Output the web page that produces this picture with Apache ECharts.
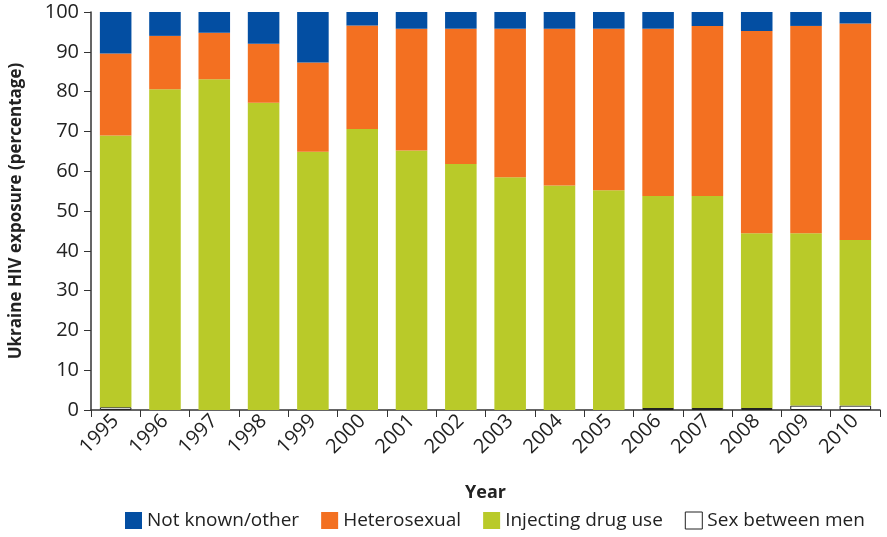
<!DOCTYPE html>
<html>
<head>
<meta charset="utf-8">
<script src="https://cdn.jsdelivr.net/npm/echarts@6/dist/echarts.min.js"></script>
<style>
  html, body { margin: 0; padding: 0; background: #fff; }
  #main { width: 887px; height: 537px; }
</style>
</head>
<body>
<div id="main"></div>
<script>
// years on the x axis
var years = ['1995','1996','1997','1998','1999','2000','2001','2002','2003','2004','2005','2006','2007','2008','2009','2010'];
// stacked segments, percent
var sexBetweenMen = [0.7, 0, 0, 0, 0, 0, 0, 0, 0, 0, 0, 0.5, 0.5, 0.5, 1.1, 1.1];
var injectingDrugUse = [68.3, 80.6, 83.1, 77.2, 64.9, 70.6, 65.2, 61.8, 58.5, 56.4, 55.2, 53.3, 53.3, 43.9, 43.3, 41.6];
var heterosexual = [20.6, 13.4, 11.7, 14.8, 22.4, 26.0, 30.6, 34.0, 37.3, 39.4, 40.6, 42.0, 42.7, 50.8, 52.1, 54.4];
var notKnown = [10.4, 6.0, 5.2, 8.0, 12.7, 3.4, 4.2, 4.2, 4.2, 4.2, 4.2, 4.2, 3.5, 4.8, 3.5, 2.9];

var font = 'Open Sans';
var chart = echarts.init(document.getElementById('main'));

// zero-height outlined bars would draw a stray line, so skip them
function noZero(arr) {
	return arr.map(function (v) { return v === 0 ? '-' : v; });
}

var option = {
	animation: false,
	textStyle: { fontFamily: font },
	legend: {
		bottom: 2,
		left: 120,
		itemWidth: 17,
		itemHeight: 17,
		itemGap: 22,
		icon: 'rect',
		textStyle: { fontSize: 19, color: '#222', fontFamily: font },
		data: [
			{ name: 'Not known/other' },
			{ name: 'Heterosexual' },
			{ name: 'Injecting drug use' },
			{ name: 'Sex between men', itemStyle: { color: '#fff', borderColor: '#222', borderWidth: 1 } }
		]
	},
	grid: { left: 85, right: 7, top: 12, bottom: 127 },
	xAxis: {
		type: 'category',
		data: years,
		name: 'Year',
		nameLocation: 'middle',
		nameGap: 74,
		nameTextStyle: { fontSize: 18, fontWeight: 'bold', color: '#222', fontFamily: font },
		axisLine: { lineStyle: { color: '#333', width: 1.5 } },
		axisTick: { show: true, length: 7, lineStyle: { color: '#333' } },
		axisLabel: { rotate: 45, fontSize: 20, color: '#222', margin: 8, fontFamily: font }
	},
	yAxis: {
		type: 'value',
		min: 0,
		max: 100,
		interval: 10,
		name: 'Ukraine HIV exposure (percentage)',
		nameLocation: 'middle',
		nameGap: 66,
		nameTextStyle: { fontSize: 17, fontWeight: 'bold', color: '#222', fontFamily: font },
		axisLine: { show: true, lineStyle: { color: '#333', width: 1.5 } },
		axisTick: { show: true, length: 7, lineStyle: { color: '#333' } },
		splitLine: { show: false },
		axisLabel: { fontSize: 20, color: '#222', margin: 12, fontFamily: font }
	},
	series: [
		{
			name: 'Sex between men', type: 'bar', stack: 'total', barWidth: '64%',
			itemStyle: { color: '#fff', borderColor: '#222', borderWidth: 1 },
			data: noZero(sexBetweenMen)
		},
		{
			name: 'Injecting drug use', type: 'bar', stack: 'total',
			itemStyle: { color: '#b9ca29' },
			data: injectingDrugUse
		},
		{
			name: 'Heterosexual', type: 'bar', stack: 'total',
			itemStyle: { color: '#f37021' },
			data: heterosexual
		},
		{
			name: 'Not known/other', type: 'bar', stack: 'total',
			itemStyle: { color: '#034ea2' },
			data: notKnown
		}
	]
};
chart.setOption(option);
</script>
</body>
</html>
